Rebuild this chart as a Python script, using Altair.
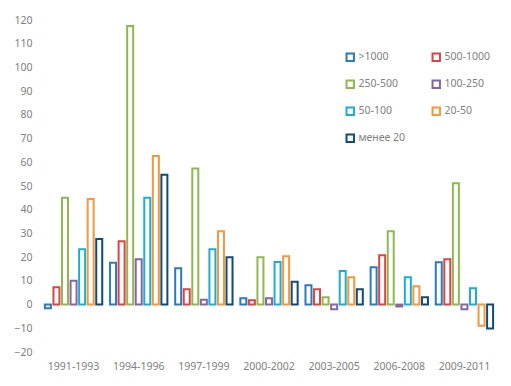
import altair as alt
import pandas as pd

periods = ["1991-1993", "1994-1996", "1997-1999", "2000-2002", "2003-2005", "2006-2008", "2009-2011"]
series = [">1000", "500-1000", "250-500", "100-250", "50-100", "20-50", "менее 20"]
colors = ["#2A7ABF", "#DA4444", "#8DB94F", "#8A63A6", "#1AAFCF", "#F7963A", "#0E4C78"]
# legend is filled column by column: this order shows the entries row by row
legend_order = [">1000", "250-500", "50-100", "менее 20", "500-1000", "100-250", "20-50"]

v_gt1000 = [-1.5, 17.6, 15.3, 2.7, 8.2, 15.7, 17.8]
v_500_1000 = [7.3, 26.7, 6.5, 1.8, 6.5, 20.8, 19.1]
v_250_500 = [45, 117.5, 57.4, 20, 3.1, 30.9, 51.2]
v_100_250 = [10, 19.1, 2, 2.7, -2, -0.8, -2]
v_50_100 = [23.3, 45, 23.3, 18, 14.2, 11.5, 6.9]
v_20_50 = [44.5, 62.6, 30.9, 20.4, 11.5, 7.7, -8.9]
v_lt20 = [27.6, 54.7, 20, 9.6, 6.5, 3.1, -10.1]

all_vals = [v_gt1000, v_500_1000, v_250_500, v_100_250, v_50_100, v_20_50, v_lt20]
rows = []
for s, vals in zip(series, all_vals):
    for p, v in zip(periods, vals):
        rows.append({"period": p, "series": s, "value": v})
df = pd.DataFrame(rows)

gray = "#808080"
font = "Noto Sans"

chart = alt.Chart(df).mark_bar(fill="white", strokeWidth=2).encode(
    x=alt.X("period:N", sort=periods, title=None,
            scale=alt.Scale(paddingInner=0.12, paddingOuter=0.06),
            axis=alt.Axis(labelAngle=0, domain=False, ticks=False, grid=False,
                          labelPadding=9, labelColor=gray, labelFont=font, labelFontSize=10.5)),
    xOffset=alt.XOffset("series:N", sort=series, scale=alt.Scale(paddingInner=0.3)),
    y=alt.Y("value:Q", title=None,
            scale=alt.Scale(domain=[-20, 120], nice=False, zero=True),
            axis=alt.Axis(values=list(range(-20, 121, 10)), domain=False, ticks=False, grid=False,
                          labelPadding=9, labelColor=gray, labelFont=font, labelFontSize=10.5)),
    stroke=alt.Stroke("series:N", sort=series,
                      scale=alt.Scale(domain=series, range=colors),
                      legend=alt.Legend(title=None, orient="none", legendX=304, legendY=32,
                                        values=legend_order,
                                        columns=2, columnPadding=22, rowPadding=11,
                                        symbolType="square", symbolSize=55, symbolStrokeWidth=2,
                                        symbolFillColor="white", labelColor=gray,
                                        labelFont=font, labelFontSize=10.5, labelOffset=3,
                                        padding=0,
                                        labelExpr="datum.label == '>1000' ? '\u00a0>1000' : datum.label")),
).properties(
    width=456, height=332,
    autosize=alt.AutoSizeParams(type="none"),
    padding={"left": 33, "top": 12, "right": 6, "bottom": 26},
).configure_view(stroke=None)

chart.save("out.html", embed_options={"renderer": "svg", "actions": False})
